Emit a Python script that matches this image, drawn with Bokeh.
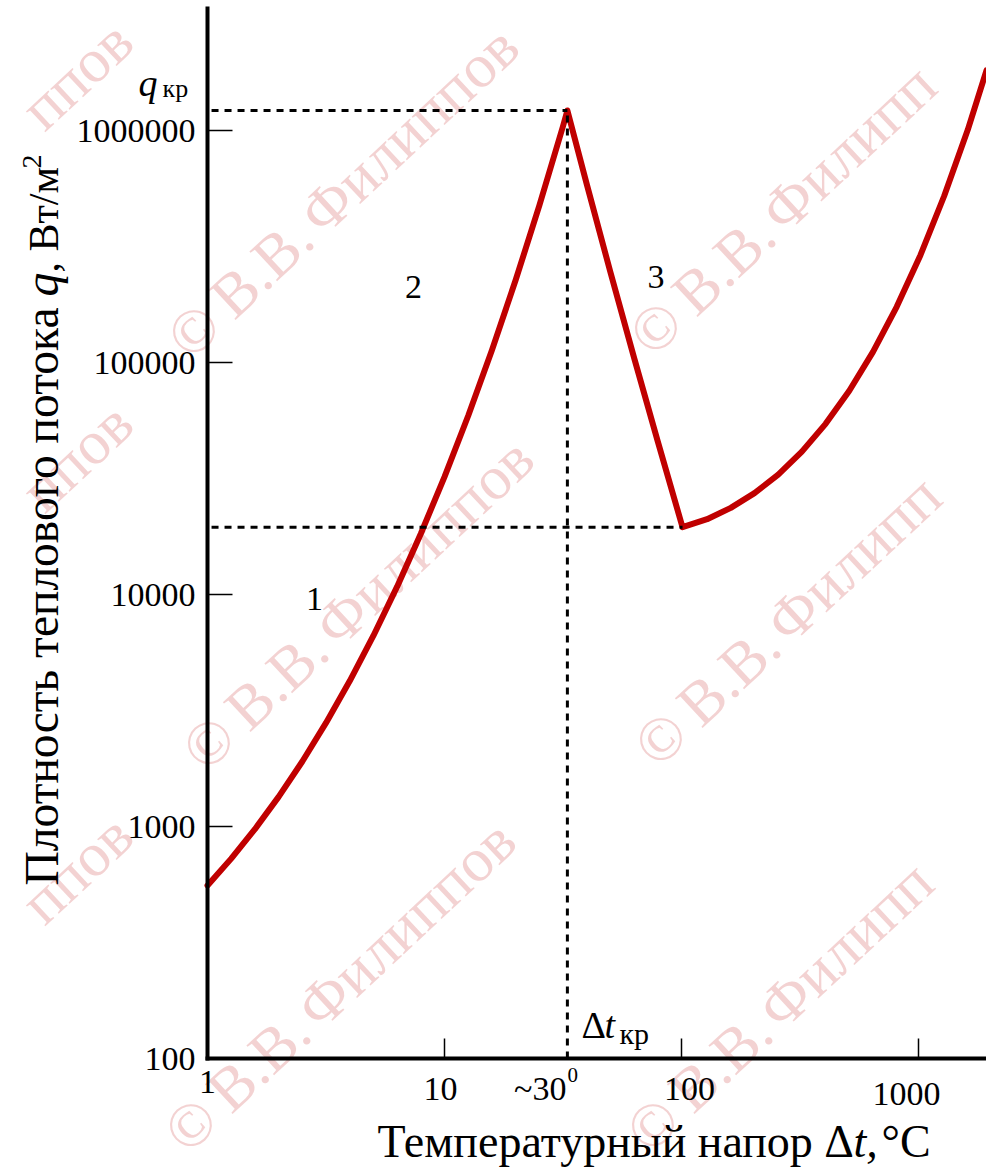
import math
from bokeh.plotting import figure
from bokeh.models import Label, FixedTicker, PrintfTickFormatter, CustomJSTickFormatter
from bokeh.embed import file_html
from bokeh.resources import INLINE

# ---------------- data ----------------
# nucleate boiling branch (regions 1-2), transition branch (3), film boiling branch
delta_t = [1.0, 1.259, 1.585, 1.995, 2.512, 3.162, 3.981, 5.012, 6.310, 7.943, 10.0,
           12.59, 15.85, 19.95, 25.12, 31.62, 33.0,
           39.8, 50.1, 63.1, 79.4, 101.0,
           128.2, 161.4, 203.2, 255.9, 322.1, 405.5, 510.5, 642.7, 809.1, 1019.0,
           1282.0, 1614.0, 1936.0]
q_flux = [557, 727, 974, 1342, 1907, 2795, 4235, 6643, 10810, 18270, 32160,
          58970, 112900, 226100, 474100, 1043000, 1220000,
          588800, 245500, 104700, 45700, 19500,
          21120, 23620, 27340, 32880, 41290, 54390, 75550, 111100, 173800, 290200,
          520700, 1007000, 1816000]

dt_crit = 33.0        # "~30 deg" critical temperature difference
q_crit = 1220000.0    # critical heat flux q_kr
dt_min = 101.0
q_min = 19500.0

x_ticks = [10, 100, 1000]
y_ticks = [100, 1000, 10000, 100000, 1000000]
x_tick_values = [1, 10, 100, 1000]
x_tick_texts = ["1", "10", "100", "1000"]
crit_tick_text = "~30"
crit_tick_sup = "0"

regime_texts = ["1", "2", "3"]
regime_dt = [2.83, 7.40, 78.0]
regime_q = [8530, 188800, 208400]

# ---------------- figure ----------------
W, H = 986, 1169
PX_DEC_X, PX_DEC_Y = 237.0, 232.0
AX_X, AX_Y = 207, 1058           # where x=1 and q=100 sit on the picture

def sx(px):
    return px
def sy(py):
    return H - py

SERIF = "Liberation Serif"
BASE_FIX = 0.35                  # baseline correction, in em

x_lo = 10 ** (-AX_X / PX_DEC_X)
x_hi = 10 ** ((W - AX_X) / PX_DEC_X)
y_lo = 10 ** (2 - (H - AX_Y) / PX_DEC_Y)
y_hi = 10 ** (2 + AX_Y / PX_DEC_Y)
y_axis_top = 10 ** (2 + (AX_Y - 8) / PX_DEC_Y)

p = figure(width=W, height=H, x_axis_type="log", y_axis_type="log",
           x_range=(x_lo, x_hi), y_range=(y_lo, y_hi),
           min_border_left=0, min_border_right=0, min_border_top=0, min_border_bottom=0,
           output_backend="svg", toolbar_location=None)
p.outline_line_color = None
p.xgrid.visible = False
p.ygrid.visible = False
p.background_fill_color = "white"
p.border_fill_color = "white"

# axes (placed at x=1 and q=100 inside the frame)
ya = p.yaxis[0]
ya.fixed_location = 1
ya.bounds = (100, y_axis_top)
ya.ticker = FixedTicker(ticks=y_ticks)
ya.formatter = PrintfTickFormatter(format="%d")
ya.axis_line_width = 4
ya.axis_line_color = "black"
ya.axis_line_cap = "square"
ya.major_tick_in = 25
ya.major_tick_out = 0
ya.major_tick_line_width = 1.5
ya.major_tick_line_color = "black"
ya.minor_tick_line_color = None
ya.major_label_text_font = SERIF
ya.major_label_text_font_size = "34px"
ya.major_label_text_color = "black"
ya.major_label_standoff = 12

xa = p.xaxis[0]
xa.fixed_location = 100
xa.bounds = (1, x_hi)
xa.ticker = FixedTicker(ticks=x_ticks)
xa.formatter = CustomJSTickFormatter(code="return ''")
xa.axis_line_width = 4
xa.axis_line_color = "black"
xa.axis_line_cap = "square"
xa.major_tick_in = 20
xa.major_tick_out = 0
xa.major_tick_line_width = 1.5
xa.major_tick_line_color = "black"
xa.minor_tick_line_color = None

# ---------------- watermark (only the parts that the picture shows) ----------------
WM_ANG = math.radians(43)
WM_FS = 62
ux, uy = math.cos(WM_ANG), -math.sin(WM_ANG)

def wm(text, cx, cy):
    p.add_layout(Label(x=sx(cx), y=sy(cy), x_units="screen", y_units="screen",
                       text=text, angle=WM_ANG, text_font=SERIF,
                       text_font_size=f"{WM_FS}px", text_color="#c83232", text_alpha=0.22,
                       text_align="center", text_baseline="middle", level="underlay"))

def wm_along(text, cx, cy, dist_em):
    d = dist_em * WM_FS
    wm(text, cx + d * ux, cy + d * uy)

wm_copy_centers = [(193, 330), (208, 742), (190, 1124)]
wm_right_centers = [(655, 327), (660, 738), (652, 1124)]
wm_left_centers = [(76, 74), (76, 456), (76, 868)]
for (cx, cy) in wm_copy_centers:
    wm_along("©", cx, cy, 0.0)
    wm_along("В.В.", cx, cy, 1.50)
    wm_along("Филиппов", cx, cy, 4.75)
for (cx, cy) in wm_right_centers:
    wm_along("©", cx, cy, 0.0)
    wm_along("В.В.", cx, cy, 1.50)
    wm_along("Филипп", cx, cy, 4.25)
for (cx, cy) in wm_left_centers:
    wm("ппов", cx, cy)

# ---------------- curve ----------------
p.line(delta_t, q_flux, line_color="#c00000", line_width=6, line_join="round",
       line_cap="round")

# dashed guide lines
dash = "7 6"
p.line([1.04, dt_crit], [q_crit, q_crit], line_color="black", line_width=3, line_dash=dash)
p.line([1.04, dt_min], [q_min, q_min], line_color="black", line_width=3, line_dash=dash)
p.line([dt_crit, dt_crit], [100, q_crit], line_color="black", line_width=3, line_dash=dash)

# ---------------- texts ----------------
def lab(text, x, y, fs, style="normal", align="left", xu="screen", yu="screen", xo=0):
    fix = BASE_FIX * fs
    yo = 0
    if yu == "screen":
        y = y + fix
    else:
        yo = fix
    p.add_layout(Label(x=x, y=y, x_units=xu, y_units=yu, x_offset=xo, y_offset=yo,
                       text=text, text_font=SERIF, text_font_size=f"{fs}px",
                       text_font_style=style, text_color="black",
                       text_align=align, text_baseline="alphabetic"))

def vlab(text, x, y, fs, style="normal"):
    p.add_layout(Label(x=sx(x) - BASE_FIX * fs, y=sy(y), x_units="screen", y_units="screen",
                       text=text, text_font=SERIF, text_font_size=f"{fs}px",
                       text_font_style=style, text_color="black",
                       text_align="left", text_baseline="alphabetic", angle=math.pi / 2))

# x tick labels
x_offsets = [0, -4, 8, -12]
x_baselines = [1093, 1100, 1100, 1105]
for v, t, o, b in zip(x_tick_values, x_tick_texts, x_offsets, x_baselines):
    lab(t, v, sy(b), 34, align="center", xu="data", xo=o)
lab(crit_tick_text, dt_crit, sy(1100), 34, align="right", xu="data", xo=-1)
lab(crit_tick_sup, dt_crit, sy(1082), 21, align="left", xu="data", xo=0)

# regime numbers
for t, xv, yv in zip(regime_texts, regime_dt, regime_q):
    lab(t, xv, yv, 34, align="center", xu="data", yu="data")

# q_kr label
lab("q", sx(138), sy(96), 38, style="italic")
lab("кр", sx(162), sy(97), 26)

# delta t_kr label
lab("Δ", sx(581), sy(1038), 38)
lab("t", sx(604), sy(1038), 38, style="italic")
lab("кр", sx(619), sy(1043), 30)

# x title
lab("Температурный напор Δ", sx(377), sy(1157), 46)
lab("t,", sx(853), sy(1157), 46, style="italic")
lab("°C", sx(881), sy(1157), 46)

# y title (rotated)
vlab("Плотность теплового потока", 58, 885, 47.5)
vlab("q", 58, 296, 47.5, style="italic")
vlab(", Вт/м", 58, 272, 42)
vlab("2", 41, 168, 28)

open("out.html", "w").write(file_html(p, INLINE))
